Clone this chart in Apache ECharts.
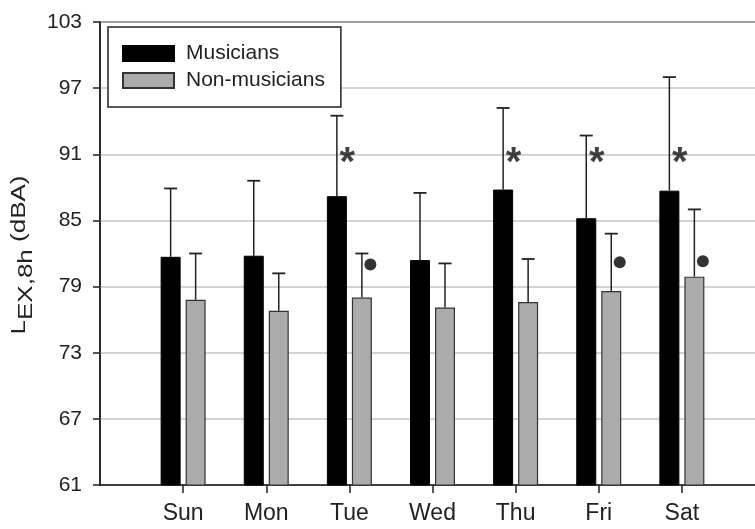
<!DOCTYPE html>
<html>
<head>
<meta charset="utf-8">
<script src="https://cdn.jsdelivr.net/npm/echarts@6/dist/echarts.min.js"></script>
<style>
html,body{margin:0;padding:0;background:#fff;}
#c{width:755px;height:529px;}
</style>
</head>
<body>
<div id="c"></div>
<script>
var days = ['Sun', 'Mon', 'Tue', 'Wed', 'Thu', 'Fri', 'Sat'];
var musiciansMean = [81.7, 81.8, 87.2, 81.4, 87.8, 85.2, 87.7];
var musiciansUpper = [87.9, 88.6, 94.5, 87.5, 95.2, 92.7, 98.0];
var nonMusiciansMean = [77.8, 76.8, 78.0, 77.1, 77.6, 78.6, 79.9];
var nonMusiciansUpper = [82.0, 80.2, 82.0, 81.1, 81.5, 83.8, 86.0];
// significance markers (null = none)
var asteriskLevel = [null, null, 90.8, null, 90.8, 90.8, 90.8];
var dotLevel = [null, null, 81.0, null, null, 81.2, 81.3];
var yTicks = [61, 67, 73, 79, 85, 91, 97, 103];
var yTitle = { main: 'L', sub: 'EX,8h', unit: ' (dBA)' };

// category axis padded with empty slots on both sides
var cats = [''].concat(days).concat(['']);
function pad(arr) { return [null].concat(arr).concat([null]); }

var FONT = '"Liberation Sans", Arial, sans-serif';
var BAR_W = 20, GAP = 5;
var OFF = (BAR_W + GAP) / 2;

function errData(mean, upper) {
  var out = [];
  for (var i = 0; i < mean.length; i++) out.push([i + 1, mean[i], upper[i]]);
  return out;
}
function errRender(offset) {
  return function (params, api) {
    var base = api.coord([api.value(0), api.value(1)]);
    var top = api.coord([api.value(0), api.value(2)]);
    var x = base[0] + offset;
    var cap = 6.5;
    return {
      type: 'group',
      children: [
        { type: 'line', shape: { x1: x, y1: base[1], x2: x, y2: top[1] },
          style: { stroke: '#222', lineWidth: 1.5 } },
        { type: 'line', shape: { x1: x - cap, y1: top[1], x2: x + cap, y2: top[1] },
          style: { stroke: '#222', lineWidth: 1.8 } }
      ]
    };
  };
}

var chart = echarts.init(document.getElementById('c'), null, { renderer: 'canvas' });
chart.setOption({
  animation: false,
  backgroundColor: '#fff',
  textStyle: { fontFamily: FONT },
  grid: { left: 100, top: 22, bottom: 44, right: -10, show: true,
          outerBoundsMode: 'none', containLabel: false,
          borderColor: '#333', borderWidth: 1.8, backgroundColor: 'transparent' },
  legend: {
    data: ['Musicians', 'Non-musicians'],
    orient: 'vertical', left: 108, top: 27,
    icon: 'rect',
    itemWidth: 51, itemHeight: 15, itemGap: 6,
    padding: [16, 16, 16, 14],
    borderColor: '#222', borderWidth: 1.5, backgroundColor: '#fff',
    selectedMode: false,
    textStyle: { fontSize: 21, color: '#222', fontFamily: FONT, padding: [0, 0, 0, 7] }
  },
  graphic: [{
    type: 'text', x: 19, y: 255, rotation: Math.PI / 2, scaleX: 1.3,
    style: {
      text: '{l|' + yTitle.main + '}{s|' + yTitle.sub + '}{l|' + yTitle.unit + '}',
      align: 'center', verticalAlign: 'middle',
      rich: {
        l: { fontSize: 20, lineHeight: 34, fill: '#222', fontFamily: FONT },
        s: { fontSize: 20, lineHeight: 20, verticalAlign: 'bottom', fill: '#222', fontFamily: FONT }
      }
    }
  }],
  xAxis: {
    type: 'category', data: cats, boundaryGap: false,
    axisLine: { lineStyle: { color: '#222', width: 1.5 } },
    axisTick: { length: 8, lineStyle: { color: '#222', width: 1.5 },
                interval: function (i, v) { return v !== ''; } },
    axisLabel: { fontSize: 23, color: '#222', margin: 17, fontFamily: FONT,
                 interval: 0 },
    splitLine: { show: false }
  },
  yAxis: {
    type: 'value', min: yTicks[0], max: yTicks[yTicks.length - 1], interval: 6,
    axisLine: { show: true, lineStyle: { color: '#222', width: 1.5 } },
    axisTick: { show: true, length: 7, lineStyle: { color: '#222', width: 1.5 } },
    axisLabel: { fontSize: 21, color: '#222', margin: 18, fontFamily: FONT },
    splitLine: { lineStyle: { color: '#c4c4c4', width: 1.5 } }
  },
  series: [
    { name: 'Musicians', type: 'bar', data: pad(musiciansMean),
      barWidth: BAR_W, barGap: (GAP / BAR_W * 100) + '%',
      itemStyle: { color: '#000', borderColor: '#000', borderWidth: 1 } },
    { name: 'Non-musicians', type: 'bar', data: pad(nonMusiciansMean),
      barWidth: BAR_W,
      itemStyle: { color: '#ababab', borderColor: '#333', borderWidth: 1.2 } },
    { type: 'custom', data: errData(musiciansMean, musiciansUpper),
      renderItem: errRender(-OFF), z: 5 },
    { type: 'custom', data: errData(nonMusiciansMean, nonMusiciansUpper),
      renderItem: errRender(OFF), z: 5 },
    { type: 'scatter', data: pad(asteriskLevel), symbolSize: 1,
      itemStyle: { color: 'rgba(0,0,0,0)' },
      label: { show: true, position: 'inside', formatter: '*', fontSize: 40,
               fontWeight: 'bold', color: '#111', offset: [-2, 7], fontFamily: FONT },
      z: 6 },
    { type: 'scatter', data: pad(dotLevel), symbol: 'circle', symbolSize: 12,
      symbolOffset: [21, 0], itemStyle: { color: '#000' }, z: 6 }
  ]
});
</script>
</body>
</html>
